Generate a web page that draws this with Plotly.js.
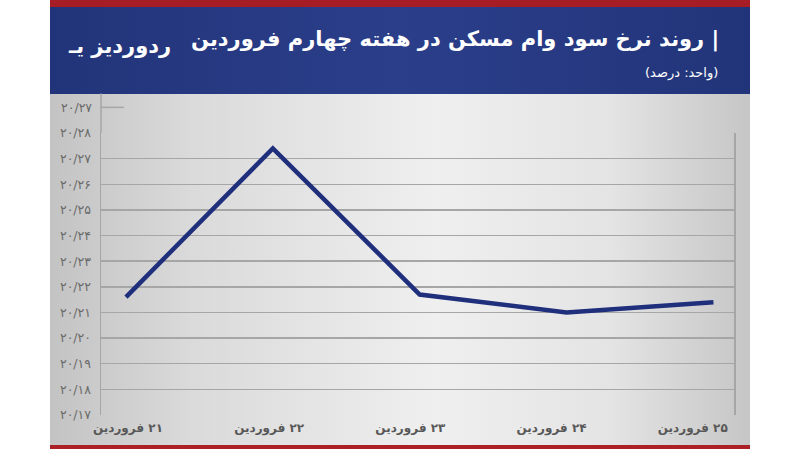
<!DOCTYPE html>
<html>
<head>
<meta charset="utf-8">
<script src="https://cdn.plot.ly/plotly-3.0.1.min.js"></script>
<style>
html,body{margin:0;padding:0;background:#fff;}
#chart{width:800px;height:449px;
background:
 linear-gradient(#a71d26,#a71d26) 50px 0/700px 7px no-repeat,
 linear-gradient(to right,#223479,#2b3e8a 50%,#223479) 50px 7px/700px 87px no-repeat,
 linear-gradient(#ad1f27,#ad1f27) 50px 445px/700px 4px no-repeat,
 linear-gradient(to right,#c3c3c3,#dadada 20%,#efefef 55%,#e4e4e4 80%,#c6c6c6) 50px 94px/700px 351px no-repeat,
 #fff;}
</style>
</head>
<body>
<div id="chart"></div>
<script>
const categories = ["۲۱ فروردین","۲۲ فروردین","۲۳ فروردین","۲۴ فروردین","۲۵ فروردین"];
const rates = [20.216, 20.274, 20.217, 20.210, 20.214];
const tickValues = [20.17,20.18,20.19,20.20,20.21,20.22,20.23,20.24,20.25,20.26,20.27,20.28];
const tickLabels = ["۲۰/۱۷","۲۰/۱۸","۲۰/۱۹","۲۰/۲۰","۲۰/۲۱","۲۰/۲۲","۲۰/۲۳","۲۰/۲۴","۲۰/۲۵","۲۰/۲۶","۲۰/۲۷","۲۰/۲۸"];
const titleText = "\u200F| روند نرخ سود وام مسکن در هفته چهارم فروردین";
const subtitleText = "\u200F(واحد: درصد)\u200F";
const logoText = "\u200Fردوردیز یـ";
const strayLabel = "۲۰/۲۷";

const RLM = "\u200F";
const idx = categories.map((c,i)=>i);
const trace = {
  x: idx, y: rates,
  type: "scatter", mode: "lines",
  line: {color: "#1f2f7c", width: 4.5},
  hoverinfo: "skip"
};
// carrier for the category labels axis (draws nothing)
const labelTrace = {
  x: idx, y: rates.map(()=>null),
  xaxis: "x2", type: "scatter", mode: "lines",
  hoverinfo: "skip", showlegend: false
};

const layout = {
  width: 800, height: 449,
  margin: {l: 101, r: 66, t: 133, b: 34},
  paper_bgcolor: "rgba(0,0,0,0)",
  plot_bgcolor: "rgba(0,0,0,0)",
  showlegend: false,
  font: {family: "DejaVu Sans, sans-serif", color: "#5f5f5f"},
  xaxis: {
    range: [-0.17, 4.14],
    showticklabels: false,
    showgrid: false, zeroline: false, showline: false, ticks: ""
  },
  xaxis2: {
    overlaying: "x", anchor: "y", side: "bottom",
    range: [-0.191, 4.292],
    tickmode: "array",
    tickvals: idx,
    ticktext: categories.map(c=>RLM + c),
    showgrid: false, zeroline: false, showline: false, ticks: "",
    tickfont: {size: 12, color: "#585858", family: "DejaVu Sans, sans-serif", weight: "bold"},
    ticklabelstandoff: 4
  },
  yaxis: {
    range: [20.17, 20.28],
    tickmode: "array",
    tickvals: tickValues,
    ticktext: tickLabels,
    showgrid: true, gridcolor: "#a6a6a6", gridwidth: 1.5,
    zeroline: false,
    showline: true, linecolor: "#a6a6a6", linewidth: 1.5, mirror: true,
    ticks: "", ticklabelstandoff: 6,
    tickfont: {size: 12.5, color: "#6a6a6a"}
  },
  shapes: [
    {type:"line", xref:"paper", yref:"paper", x0:0, x1:0, y0:1, y1:1.14, line:{color:"#a6a6a6", width:1.5}},
    {type:"line", xref:"paper", yref:"paper", x0:0, x1:0.036, y0:1.0909, y1:1.0909, line:{color:"#a6a6a6", width:1.5}}
  ],
  annotations: [
    {xref:"paper", yref:"paper", x:-0.011, y:1.0909, xanchor:"right", yanchor:"middle",
     text: strayLabel, showarrow:false, font:{size:12.5, color:"#6a6a6a"}},
    {xref:"paper", yref:"paper", x:(721-101)/633, y:(414.5-40)/281.5, xanchor:"right", yanchor:"middle",
     text: titleText, showarrow:false, font:{size:21, color:"#ffffff", family:"DejaVu Sans, sans-serif", weight:"bold"}},
    {xref:"paper", yref:"paper", x:(720-101)/633, y:(414.5-73)/281.5, xanchor:"right", yanchor:"middle",
     text: subtitleText, showarrow:false, font:{size:13, color:"#ffffff", family:"DejaVu Sans, sans-serif"}},
    {xref:"paper", yref:"paper", x:(66-101)/633, y:(414.5-46)/281.5, xanchor:"left", yanchor:"middle",
     text: logoText, showarrow:false, font:{size:21, color:"#ffffff", family:"DejaVu Sans, sans-serif", weight:"bold"}}
  ]
};

Plotly.newPlot("chart", [trace, labelTrace], layout, {staticPlot: true, displayModeBar: false});
</script>
</body>
</html>
